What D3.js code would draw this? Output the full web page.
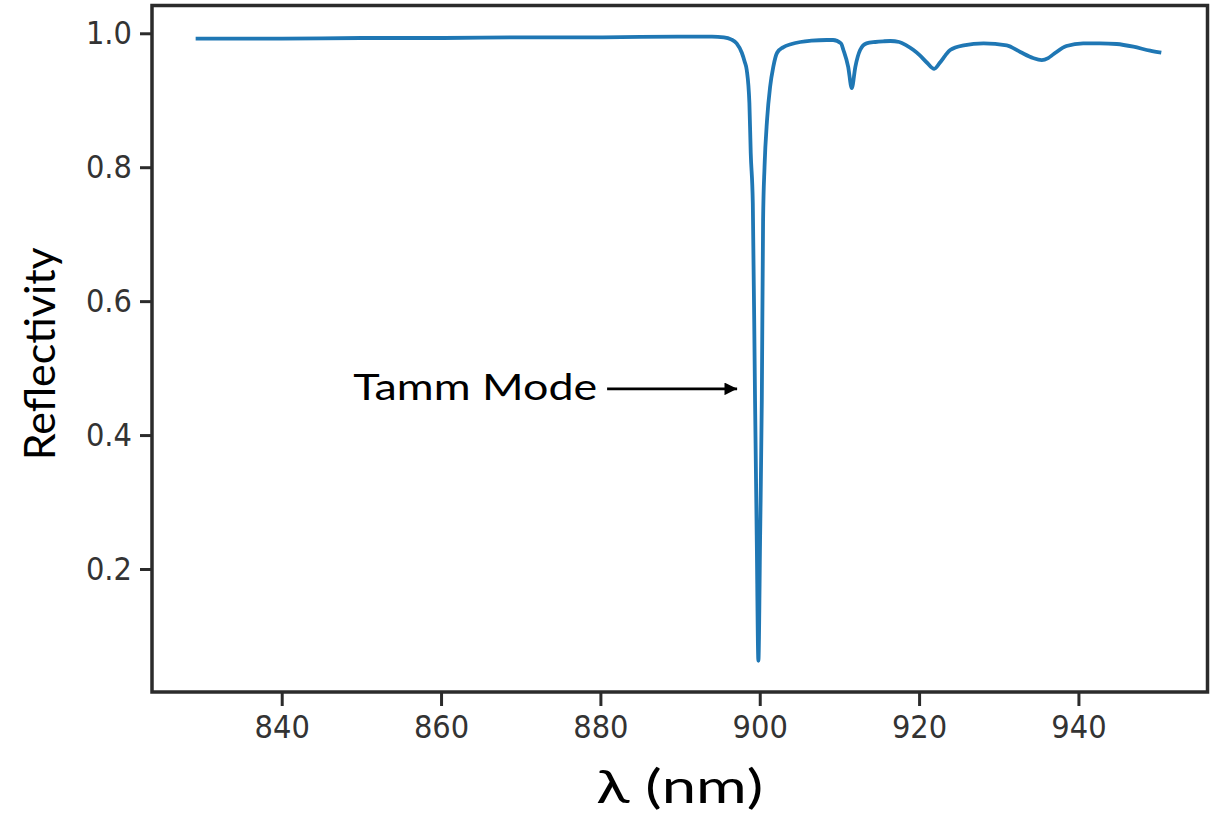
<!DOCTYPE html>
<html>
<head>
<meta charset="utf-8">
<script src="https://cdn.jsdelivr.net/npm/d3@7"></script>
<style>
  html, body { margin: 0; padding: 0; background: #fff; }
  svg { display: block; }
</style>
</head>
<body>
<svg id="chart" width="1217" height="813"></svg>
<script>
// ---- data ----
const wavelength = [
  829.2, 840, 850, 860, 870, 880, 890, 894, 895.5,
  896.4, 897.1, 897.75, 898.1, 898.37, 898.7, 898.87, 899.13, 899.41, 899.62, 899.83,
  900.05, 900.26, 900.42, 900.6, 900.92, 901.3, 901.7, 902.18, 902.93, 904.0, 905.1,
  906.5, 908.4, 909.2, 910.2, 910.5, 911.1, 911.55, 912.0, 912.6, 913.4, 914.5,
  915.5, 916.4, 917.5, 918.4, 919.3, 920.1, 921.0, 921.9, 922.6, 923.3, 923.9,
  925.6, 928.1, 931.0, 932.7, 934.3, 935.4, 936.2, 936.9, 938.5, 940.6, 942.7,
  944.8, 946.9, 949.0, 950.4
];
const reflectivity = [
  0.992, 0.992, 0.993, 0.993, 0.994, 0.994, 0.995, 0.995, 0.994,
  0.991, 0.985, 0.971, 0.958, 0.945, 0.896, 0.821, 0.746, 0.452, 0.250, 0.063,
  0.250, 0.452, 0.721, 0.800, 0.871, 0.920, 0.950, 0.971, 0.979, 0.984, 0.987,
  0.989, 0.990, 0.990, 0.985, 0.975, 0.950, 0.918, 0.950, 0.975, 0.985, 0.987,
  0.988, 0.9885, 0.987, 0.982, 0.975, 0.967, 0.956, 0.947, 0.956, 0.967, 0.975,
  0.982, 0.985, 0.982, 0.972, 0.963, 0.960, 0.963, 0.969, 0.981, 0.985, 0.985,
  0.984, 0.980, 0.974, 0.971
];
const xTicks = [840, 860, 880, 900, 920, 940];
const yTicks = [0.2, 0.4, 0.6, 0.8, 1.0];
const yTickLabels = ["0.2", "0.4", "0.6", "0.8", "1.0"];
const xLabel = "λ (nm)";
const yLabel = "Reflectivity";
const annotText = "Tamm Mode";
const annotTail = [880.84, 0.469];   // arrow tail (λ, R)
const annotTip  = [897.16, 0.469];   // arrow tip  (λ, R)
const annotTextAnchor = [879.6, 0.452];

// ---- layout ----
const svg = d3.select("#chart");
const pLeft = 152, pRight = 1207.5, pTop = 5.5, pBottom = 692;
const x = d3.scaleLinear().domain([823.72, 956.2]).range([pLeft, pRight]);
const y = d3.scaleLinear().domain([0.0163, 1.0415]).range([pBottom, pTop]);
const axisColor = "#2b2b2b";

// line
const data = wavelength.map((w, i) => [w, reflectivity[i]]);
svg.append("path")
  .datum(data)
  .attr("fill", "none")
  .attr("stroke", "#1f77b4")
  .attr("stroke-width", 3.8)
  .attr("stroke-linejoin", "round")
  .attr("d", d3.line().curve(d3.curveMonotoneX).x(d => x(d[0])).y(d => y(d[1])));

// axes
const xAxis = svg.append("g")
  .attr("transform", `translate(0,${pBottom})`)
  .call(d3.axisBottom(x).tickValues(xTicks).tickSize(14).tickPadding(6).tickFormat(d3.format("d")));
const yAxis = svg.append("g")
  .attr("transform", `translate(${pLeft},0)`)
  .call(d3.axisLeft(y).tickValues(yTicks).tickSize(12).tickPadding(8)
        .tickFormat((d, i) => yTickLabels[i]));
[xAxis, yAxis].forEach(g => {
  g.select(".domain").remove();
  g.selectAll(".tick line").attr("stroke", axisColor).attr("stroke-width", 3);
  g.selectAll(".tick text")
    .attr("fill", "#333")
    .attr("transform", "scale(1,1.12)")
    .style("font-family", "DejaVu Sans")
    .style("font-size", "29px");
});
xAxis.selectAll(".tick text").attr("y", 20.5).attr("dy", "0.72em");

// frame
svg.append("rect")
  .attr("x", pLeft).attr("y", pTop)
  .attr("width", pRight - pLeft).attr("height", pBottom - pTop)
  .attr("fill", "none").attr("stroke", axisColor).attr("stroke-width", 3.5);

// axis labels
svg.append("text")
  .attr("x", (pLeft + pRight) / 2).attr("y", 803)
  .attr("text-anchor", "middle")
  .style("font-family", "Lato").style("font-size", "46px")
  .attr("fill", "#000")
  .attr("textLength", 167).attr("lengthAdjust", "spacingAndGlyphs")
  .text(xLabel);
svg.append("text")
  .attr("transform", `translate(55,${(pTop + pBottom) / 2 + 5}) rotate(-90)`)
  .attr("text-anchor", "middle")
  .style("font-family", "Lato").style("font-size", "42px")
  .attr("fill", "#000")
  .attr("textLength", 213).attr("lengthAdjust", "spacingAndGlyphs")
  .text(yLabel);

// annotation
svg.append("text")
  .attr("x", x(annotTextAnchor[0])).attr("y", y(annotTextAnchor[1]))
  .attr("text-anchor", "end")
  .style("font-family", "Lato").style("font-size", "36px")
  .attr("fill", "#000")
  .attr("textLength", 244).attr("lengthAdjust", "spacingAndGlyphs")
  .text(annotText);
svg.append("defs").append("marker")
  .attr("id", "ah").attr("viewBox", "0 0 10 10")
  .attr("refX", 10).attr("refY", 5)
  .attr("markerWidth", 5.5).attr("markerHeight", 4.5)
  .attr("markerUnits", "strokeWidth")
  .attr("orient", "auto")
  .append("path").attr("d", "M0,0 L10,5 L0,10 Z").attr("fill", "#000");
svg.append("line")
  .attr("x1", x(annotTail[0])).attr("y1", y(annotTail[1]))
  .attr("x2", x(annotTip[0])).attr("y2", y(annotTip[1]))
  .attr("stroke", "#000").attr("stroke-width", 2.8)
  .attr("marker-end", "url(#ah)");
</script>
</body>
</html>
